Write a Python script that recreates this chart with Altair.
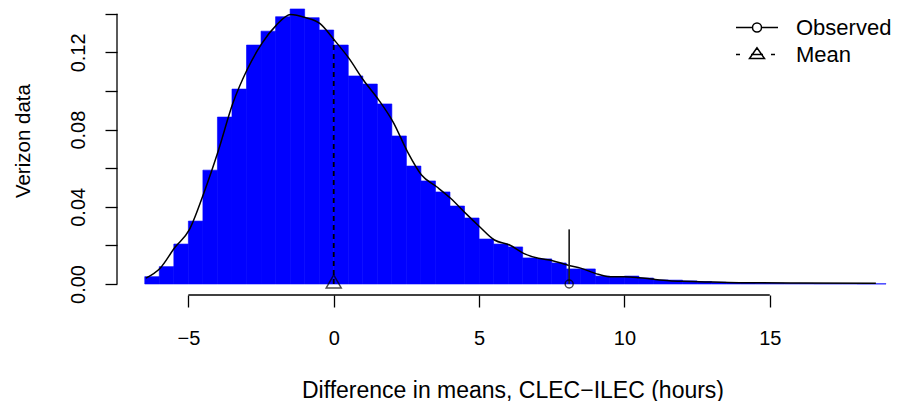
import altair as alt
import pandas as pd

# ---- data ----
breaks = [-6.5, -6.0, -5.5, -5.0, -4.5, -4.0, -3.5, -3.0, -2.5, -2.0, -1.5, -1.0,
          -0.5, 0.0, 0.5, 1.0, 1.5, 2.0, 2.5, 3.0, 3.5, 4.0, 4.5, 5.0, 5.5, 6.0,
          6.5, 7.0, 7.5, 8.0, 8.5, 9.0, 9.5, 10.0, 10.5, 11.0, 11.5, 12.0, 12.5,
          13.0, 13.5, 14.0, 14.5, 15.0, 15.5, 16.0, 16.5, 17.0, 17.5, 18.0, 18.5, 19.0]
density = [0.0038, 0.0090, 0.0207, 0.0326, 0.0590, 0.0865, 0.1010, 0.1238, 0.1310,
           0.1385, 0.1425, 0.1380, 0.1316, 0.1238, 0.1078, 0.1036, 0.0933, 0.0767,
           0.0611, 0.0534, 0.0477, 0.0404, 0.0342, 0.0233, 0.0207, 0.0192, 0.0135,
           0.0130, 0.0109, 0.0078, 0.0078, 0.0041, 0.0036, 0.0041, 0.0031, 0.0021,
           0.0020, 0.0016, 0.0013, 0.0009, 0.0007, 0.0005, 0.0004, 0.0004, 0.0003,
           0.0003, 0.0002, 0.0002, 0.0002, 0.0001, 0.0001]

curve_x = [-6.46, -5.98, -5.46, -4.97, -4.47, -3.97, -3.47, -2.98, -2.47, -1.98,
           -1.48, -0.97, -0.48, 0.02, 0.52, 1.02, 1.55, 2.04, 2.54, 3.02, 3.54,
           4.02, 4.54, 5.02, 5.53, 6.05, 6.53, 7.04, 7.53, 8.04, 8.52, 9.00, 9.48,
           10.00, 10.50, 11.03, 11.55, 12.03, 12.58, 13.95, 16.00, 18.65]
curve_y = [0.0030, 0.0080, 0.0190, 0.0280, 0.0470, 0.0690, 0.0936, 0.1110, 0.1247,
           0.1340, 0.1396, 0.1380, 0.1350, 0.1264, 0.1170, 0.1057, 0.0953, 0.0840,
           0.0685, 0.0565, 0.0504, 0.0444, 0.0366, 0.0297, 0.0228, 0.0202, 0.0159,
           0.0133, 0.0121, 0.0098, 0.0081, 0.0055, 0.0038, 0.0038, 0.0033, 0.0024,
           0.0017, 0.0014, 0.0012, 0.0007, 0.0005, 0.0004]

observed_value = 8.1
observed_line_top = 0.0283
mean_value = 0.0
mean_line_top = 0.1264

legend_labels = ["Observed", "Mean"]
x_ticks = [-5, 0, 5, 10, 15]
y_ticks = [0.0, 0.02, 0.04, 0.06, 0.08, 0.10, 0.12, 0.14]
y_labels_shown = ["0.00", "0.04", "0.08", "0.12"]
x_title = "Difference in means, CLEC\u2212ILEC (hours)"
y_title = "Verizon data"

FONT = "Liberation Sans"
W, H = 775, 287

hist_df = pd.DataFrame({"lo": breaks[:-1], "hi": breaks[1:], "dens": density})
curve_df = pd.DataFrame({"x": curve_x, "y": curve_y})
obs_df = pd.DataFrame({"x": [observed_value], "y": [0.0], "top": [observed_line_top]})
mean_df = pd.DataFrame({"x": [mean_value], "y": [0.0], "top": [mean_line_top]})
leg_df = pd.DataFrame({"series": legend_labels, "x": [observed_value, mean_value], "y": [0.0, 0.0]})
xaxis_df = pd.DataFrame({"a": [x_ticks[0]], "b": [x_ticks[-1]]})
yaxis_df = pd.DataFrame({"a": [y_ticks[0]], "b": [y_ticks[-1]]})

xscale = alt.Scale(domain=[-7.455, 19.205], nice=False, zero=False)
yscale = alt.Scale(domain=[-0.0057, 0.143], nice=False, zero=False)

label_list = "[" + ",".join("'%s'" % s for s in y_labels_shown) + "]"
y_label_expr = ("indexof(%s, format(datum.value, '.2f')) >= 0 ? format(datum.value, '.2f') : ''"
                % label_list)

xaxis = alt.Axis(values=x_ticks, domain=False, grid=False, tickSize=12, tickColor="black",
                 tickWidth=1.3, labelFontSize=20, labelFont=FONT, labelColor="black",
                 labelBaseline="alphabetic", labelPadding=37, labelOverlap=False,
                 labelFlush=False, title=x_title, titleFont=FONT, titleFontSize=23,
                 titleFontWeight="normal", titleColor="black", titleX=395.5, titleY=102,
                 titleBaseline="alphabetic", titleAlign="center")
yaxis = alt.Axis(values=y_ticks, domain=False, grid=False, tickSize=12, tickColor="black",
                 tickWidth=1.3, labelFontSize=20, labelFont=FONT, labelColor="black",
                 labelAngle=270, labelAlign="center", labelBaseline="alphabetic",
                 labelPadding=21, labelOverlap=False, labelFlush=False,
                 labelExpr=y_label_expr, title=y_title, titleFont=FONT, titleFontSize=20.5,
                 titleFontWeight="normal", titleColor="black", titleAngle=270,
                 titleX=-88, titleY=132.6, titleBaseline="alphabetic", titleAlign="center")

bars = alt.Chart(hist_df).mark_rect(color="#0000FF", stroke="#0000FF", strokeWidth=0.6).encode(
    x=alt.X("lo:Q", scale=xscale, axis=xaxis),
    x2="hi:Q",
    y=alt.Y("dens:Q", scale=yscale, axis=yaxis),
    y2=alt.datum(0),
)

curve = alt.Chart(curve_df).mark_line(color="black", strokeWidth=1.5, interpolate="monotone").encode(
    x=alt.X("x:Q", scale=xscale), y=alt.Y("y:Q", scale=yscale))

mean_rule = alt.Chart(mean_df).mark_rule(color="black", strokeWidth=1.8, strokeDash=[5, 4]).encode(
    x=alt.X("x:Q", scale=xscale), y=alt.Y("y:Q", scale=yscale), y2="top:Q")
obs_rule = alt.Chart(obs_df).mark_rule(color="#222222", strokeWidth=1.7).encode(
    x=alt.X("x:Q", scale=xscale), y=alt.Y("y:Q", scale=yscale), y2="top:Q")

obs_pt = alt.Chart(obs_df).mark_point(shape="circle", size=64, filled=False, color="black",
                                      strokeWidth=1.5).encode(
    x=alt.X("x:Q", scale=xscale), y=alt.Y("y:Q", scale=yscale))
mean_pt = alt.Chart(mean_df).mark_point(shape="M0,-1.2L-1,0.53L1,0.53Z", size=225, filled=False,
                                        color="black", strokeWidth=1.5).encode(
    x=alt.X("x:Q", scale=xscale), y=alt.Y("y:Q", scale=yscale))

obs_path = "M-2.1,0H-0.45M0.45,0H2.1M0.45,0A0.45,0.45,0,1,1,-0.45,0A0.45,0.45,0,1,1,0.45,0"
mean_path = "M-2.1,0H-1.7M-0.6,0H0.6M1.4,0H1.8M0,-0.67L-0.75,0.4L0.75,0.4Z"

legend_layer = alt.Chart(leg_df).mark_point(opacity=0, size=400, filled=False, color="black",
                                            strokeWidth=1.5).encode(
    x=alt.X("x:Q", scale=xscale), y=alt.Y("y:Q", scale=yscale),
    shape=alt.Shape("series:N",
                    scale=alt.Scale(domain=legend_labels, range=[obs_path, mean_path]),
                    legend=alt.Legend(title=None, orient="none", legendX=629, legendY=8.5,
                                      padding=0, rowPadding=5, labelOffset=28,
                                      labelFontSize=22, labelFont=FONT, labelColor="black",
                                      symbolSize=400, symbolStrokeWidth=1.5,
                                      symbolStrokeColor="black", symbolOpacity=1,
                                      symbolFillColor="transparent")))

x_axis_line = alt.Chart(xaxis_df).mark_rule(color="black", strokeWidth=1.3).encode(
    x=alt.X("a:Q", scale=xscale), x2="b:Q", y=alt.value(H))
y_axis_line = alt.Chart(yaxis_df).mark_rule(color="black", strokeWidth=1.3).encode(
    y=alt.Y("a:Q", scale=yscale), y2="b:Q", x=alt.value(0))

chart = alt.layer(bars, curve, mean_rule, obs_rule, obs_pt, mean_pt, legend_layer,
                  x_axis_line, y_axis_line).properties(
    width=W, height=H,
    autosize=alt.AutoSizeParams(type="none"),
    padding={"left": 109, "top": 0, "right": 0, "bottom": 106},
    background="white",
).configure_view(stroke=None).configure_axis(grid=False)

chart.save("out.html", embed_options={"renderer": "svg", "actions": False})
